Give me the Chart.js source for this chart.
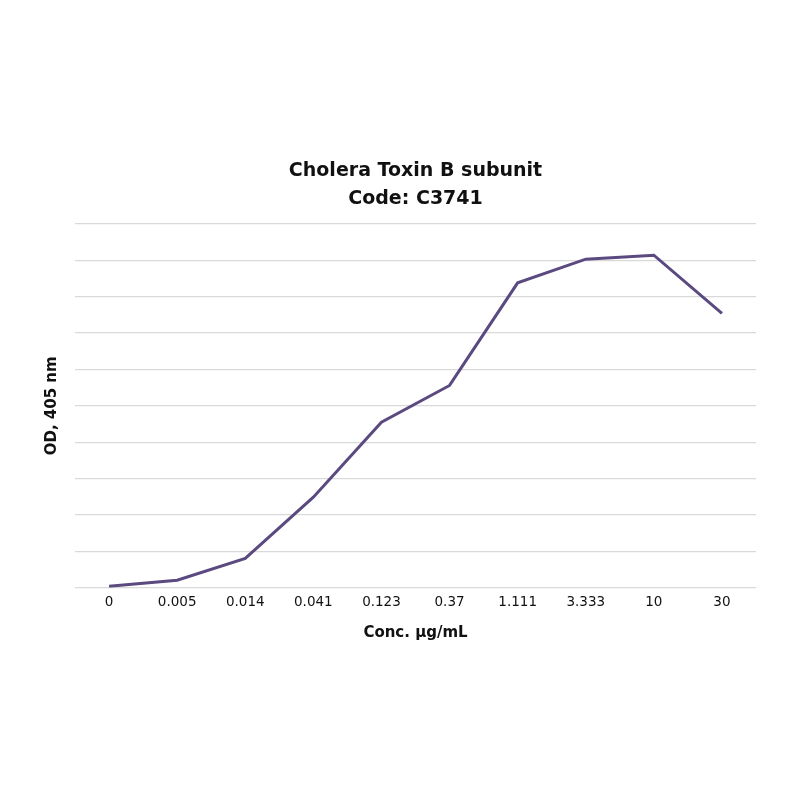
<!DOCTYPE html>
<html lang="en">
<head>
  <meta charset="UTF-8">
  <title>Cholera Toxin B subunit</title>
  <script src="https://cdn.jsdelivr.net/npm/chart.js"></script>
  <style>
    html, body { margin: 0; padding: 0; background: #fff; overflow: hidden; }
    #wrap { width: 800px; height: 800px; }
  </style>
</head>
<body>

<div id="wrap"><canvas id="odChart"></canvas></div>

<script>
  // concentrations (µg/mL) and OD readings
  const concLabels = ['0', '0.005', '0.014', '0.041', '0.123', '0.37', '1.111', '3.333', '10', '30'];
  const odValues = [0.004, 0.021, 0.081, 0.249, 0.455, 0.556, 0.838, 0.903, 0.914, 0.754];

  Chart.defaults.font.family = '"DejaVu Sans", Verdana, sans-serif';
  Chart.defaults.color = '#111';

  const ctx = document.getElementById('odChart').getContext('2d');

  new Chart(ctx, {
    type: 'line',
    data: {
      labels: concLabels,
      datasets: [
        {
          label: 'OD, 405 nm',
          data: odValues,
          borderColor: '#5b4a80',
          borderWidth: 3,
          pointRadius: 0,
          tension: 0,
          fill: false
        }
      ]
    },
    options: {
      responsive: true,
      maintainAspectRatio: false,
      animation: false,
      layout: {
        padding: { top: 147, left: 38, right: 44, bottom: 154 }
      },
      plugins: {
        legend: { display: false },
        tooltip: { enabled: false },
        title: {
          display: true,
          fullSize: false,
          text: ['Cholera Toxin B subunit', 'Code: C3741'],
          color: '#111',
          font: { size: 19, weight: 'bold', lineHeight: 1.47 },
          padding: { top: 10, bottom: 11 }
        }
      },
      scales: {
        x: {
          offset: true,
          grid: { display: false, drawTicks: false },
          border: { display: false },
          ticks: { padding: 7, font: { size: 13.5 }, color: '#111' },
          title: {
            display: true,
            text: 'Conc. µg/mL',
            font: { size: 15, weight: 'bold' },
            padding: { top: 6, bottom: 4 }
          }
        },
        y: {
          min: 0,
          max: 1,
          ticks: { display: false, stepSize: 0.1 },
          grid: { color: '#d9d9d9', lineWidth: 1.2, drawTicks: false },
          border: { display: false },
          title: {
            display: true,
            text: 'OD, 405 nm',
            font: { size: 15, weight: 'bold' },
            padding: { top: 5, bottom: 14 }
          }
        }
      }
    }
  });
</script>

</body>
</html>
